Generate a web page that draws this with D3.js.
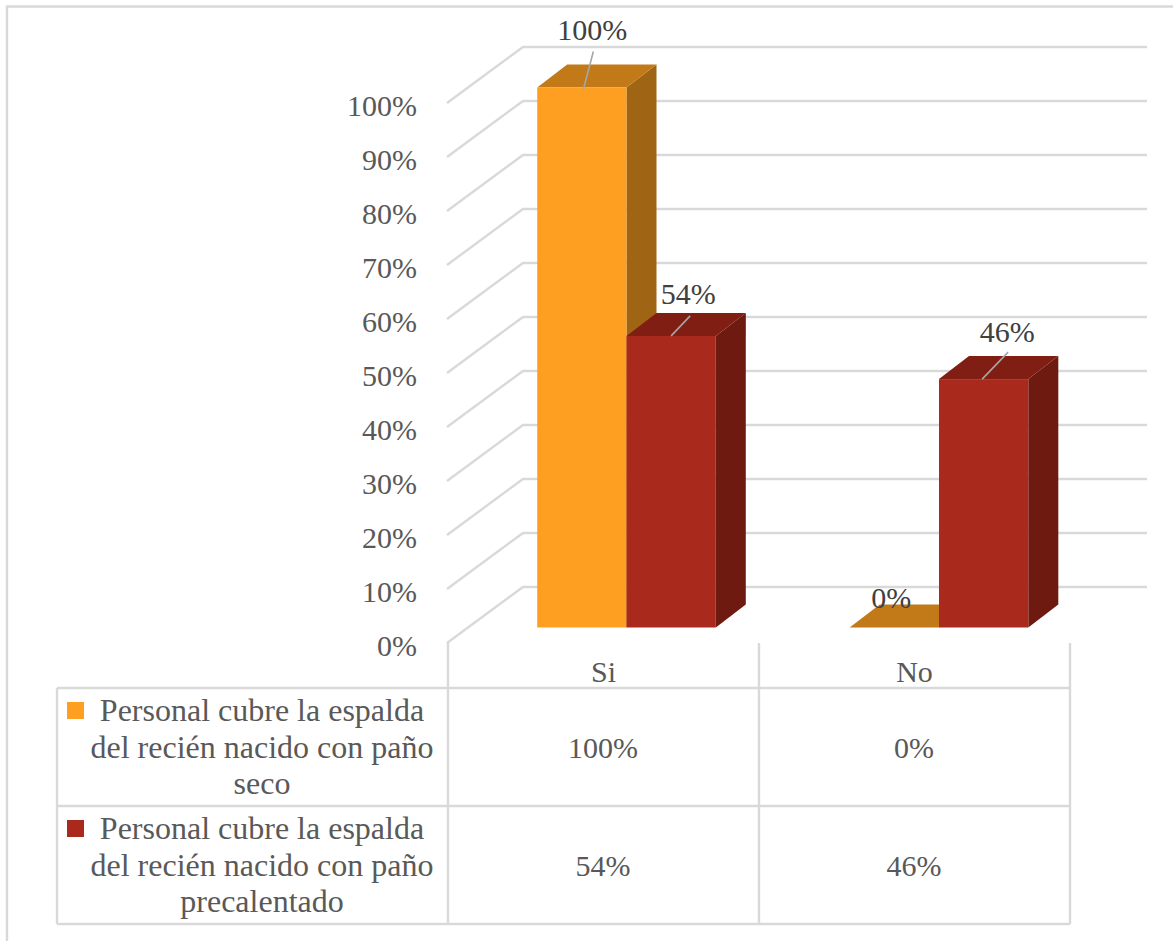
<!DOCTYPE html>
<html lang="es">
<head>
<meta charset="utf-8">
<title>Personal cubre la espalda del recién nacido</title>
<script src="https://cdn.jsdelivr.net/npm/d3@7/dist/d3.min.js"></script>
<style>
  html, body { margin: 0; padding: 0; background: #fff; }
  svg { display: block; }
  text { font-family: "Liberation Serif", "Times New Roman", serif; }
</style>
</head>
<body>
<svg id="chart" width="1173" height="941"></svg>
<script>
const categories = ["Si", "No"];
const seriesNames = [
  ["Personal cubre la espalda", "del recién nacido con paño", "seco"],
  ["Personal cubre la espalda", "del recién nacido con paño", "precalentado"]
];
const seriesSeco = [100, 0];
const seriesPrecalentado = [54, 46];
const tickValues = [0, 10, 20, 30, 40, 50, 60, 70, 80, 90, 100];

const palette = [
  { front: "#FF9F21", top: "#C27A18", side: "#A06514" },
  { front: "#A9291C", top: "#801E14", side: "#6E1A10" }
];
const series = [seriesSeco, seriesPrecalentado];
const grid = "#D9D9D9", tickInk = "#595959", labelInk = "#404040";
const pct = d => d + "%";

const svg = d3.select("#chart");

// Outer chart frame
svg.append("path").attr("d", "M7,941V6.5H1173")
  .attr("fill", "none").attr("stroke", grid).attr("stroke-width", 2.4);

// Front plane of the value axis, and the offset of the 3D back wall
const y = d3.scaleLinear().domain([0, 100]).range([643, 103]);
const wall = { dx: 76, dy: -56, right: 1147, left: 447 };

const gridG = svg.append("g").attr("fill", "none").attr("stroke", grid).attr("stroke-width", 2.4);
gridG.selectAll("path").data(tickValues).join("path")
  .attr("d", d => `M${wall.left},${y(d)}L${wall.left + wall.dx},${y(d) + wall.dy}H${wall.right}`);

// Value axis labels
const axis = d3.axisLeft(y).tickValues(tickValues).tickFormat(pct).tickSize(0).tickPadding(0);
const axisG = svg.append("g").attr("transform", "translate(417,0)").call(axis);
axisG.select(".domain").remove();
axisG.selectAll("text")
  .attr("font-family", '"Liberation Serif", serif')
  .attr("font-size", 30).attr("fill", tickInk)
  .attr("dy", 12.5);

// Bars: cluster centres on a point scale, heights from the value scale
const xCluster = d3.scalePoint().domain(categories).range([626.5, 939]);
const barW = 89.3;
const xBar = (ci, si) => xCluster(categories[ci]) - barW + si * barW;
const barBase = 627.5, depth = { dx: 30, dy: -23 };
const barY = v => barBase - (y(0) - y(v));

const bars = [];
series.forEach((vals, si) => vals.forEach((v, ci) => bars.push({ si, ci, v })));
bars.sort((a, b) => a.ci - b.ci || a.si - b.si);

const barG = svg.append("g");
bars.forEach(b => {
  const x = xBar(b.ci, b.si), t = barY(b.v), c = palette[b.si];
  const g = barG.append("g");
  if (b.v > 0) {
    g.append("path").attr("fill", c.side)
      .attr("d", `M${x + barW},${t}l${depth.dx},${depth.dy}V${barBase + depth.dy}L${x + barW},${barBase}Z`);
  }
  g.append("path").attr("fill", c.top)
    .attr("d", `M${x},${t}l${depth.dx},${depth.dy}h${barW}l${-depth.dx},${-depth.dy}Z`);
  if (b.v > 0) {
    g.append("rect").attr("x", x).attr("y", t).attr("width", barW).attr("height", barBase - t)
      .attr("fill", c.front);
  }
});

// Data labels sit at a per-bar offset from the bar's top centre; pulled ones get a leader line
const labelG = svg.append("g");
const labelPlacement = {
  "0-0": { dx: 10.5, dy: -47.5, lead: [1.5, 2, 11.5, -36] },
  "1-0": { dx: 17, dy: -31.5, lead: [0, 0, 19, -20] },
  "1-1": { dx: 23.5, dy: -37, lead: [-1.5, 0, 24.5, -27] },
  "0-1": { dx: -3, dy: -19.5, lead: null }
};
bars.forEach(b => {
  const p = labelPlacement[`${b.si}-${b.ci}`];
  const t = barY(b.v), cx = xBar(b.ci, b.si) + barW / 2;
  if (p.lead) {
    labelG.append("line")
      .attr("x1", cx + p.lead[0]).attr("y1", t + p.lead[1])
      .attr("x2", cx + p.lead[2]).attr("y2", t + p.lead[3])
      .attr("stroke", "#A6A6A6").attr("stroke-width", 1.6);
  }
  labelG.append("text")
    .attr("x", cx + p.dx).attr("y", t + p.dy)
    .attr("text-anchor", "middle").attr("font-size", 30).attr("fill", labelInk)
    .text(pct(b.v));
});

// Data table under the plot
const rowY = [688, 806, 924];
const tableLeft = 57, colX = [448, 759, 1070], tableTop = 643;
const tbl = svg.append("g").attr("stroke", grid).attr("stroke-width", 2.4);
rowY.forEach(ry => tbl.append("line").attr("x1", tableLeft).attr("x2", colX[2]).attr("y1", ry).attr("y2", ry));
colX.forEach(cx => tbl.append("line").attr("x1", cx).attr("x2", cx).attr("y1", tableTop).attr("y2", rowY[2]));
tbl.append("line").attr("x1", tableLeft).attr("x2", tableLeft).attr("y1", rowY[0]).attr("y2", rowY[2]);

const cellText = svg.append("g").attr("font-size", 30).attr("fill", tickInk).attr("text-anchor", "middle");
categories.forEach((c, i) => {
  const cx = (colX[i] + colX[i + 1]) / 2;
  cellText.append("text").attr("x", cx).attr("y", 682).text(c);
  series.forEach((vals, si) => {
    cellText.append("text").attr("x", cx - 0.5).attr("y", rowY[si] + 70).text(pct(vals[i]));
  });
});

// Series names with their colour keys
seriesNames.forEach((lines, si) => {
  svg.append("rect").attr("x", 67).attr("y", rowY[si] + 14).attr("width", 17).attr("height", 17)
    .attr("fill", palette[si].front);
  lines.forEach((ln, li) => {
    cellText.append("text")
      .attr("x", 262)
      .attr("y", rowY[si] + 33 + li * 36.7)
      .attr("font-size", 32)
      .text(ln);
  });
});
</script>
</body>
</html>
